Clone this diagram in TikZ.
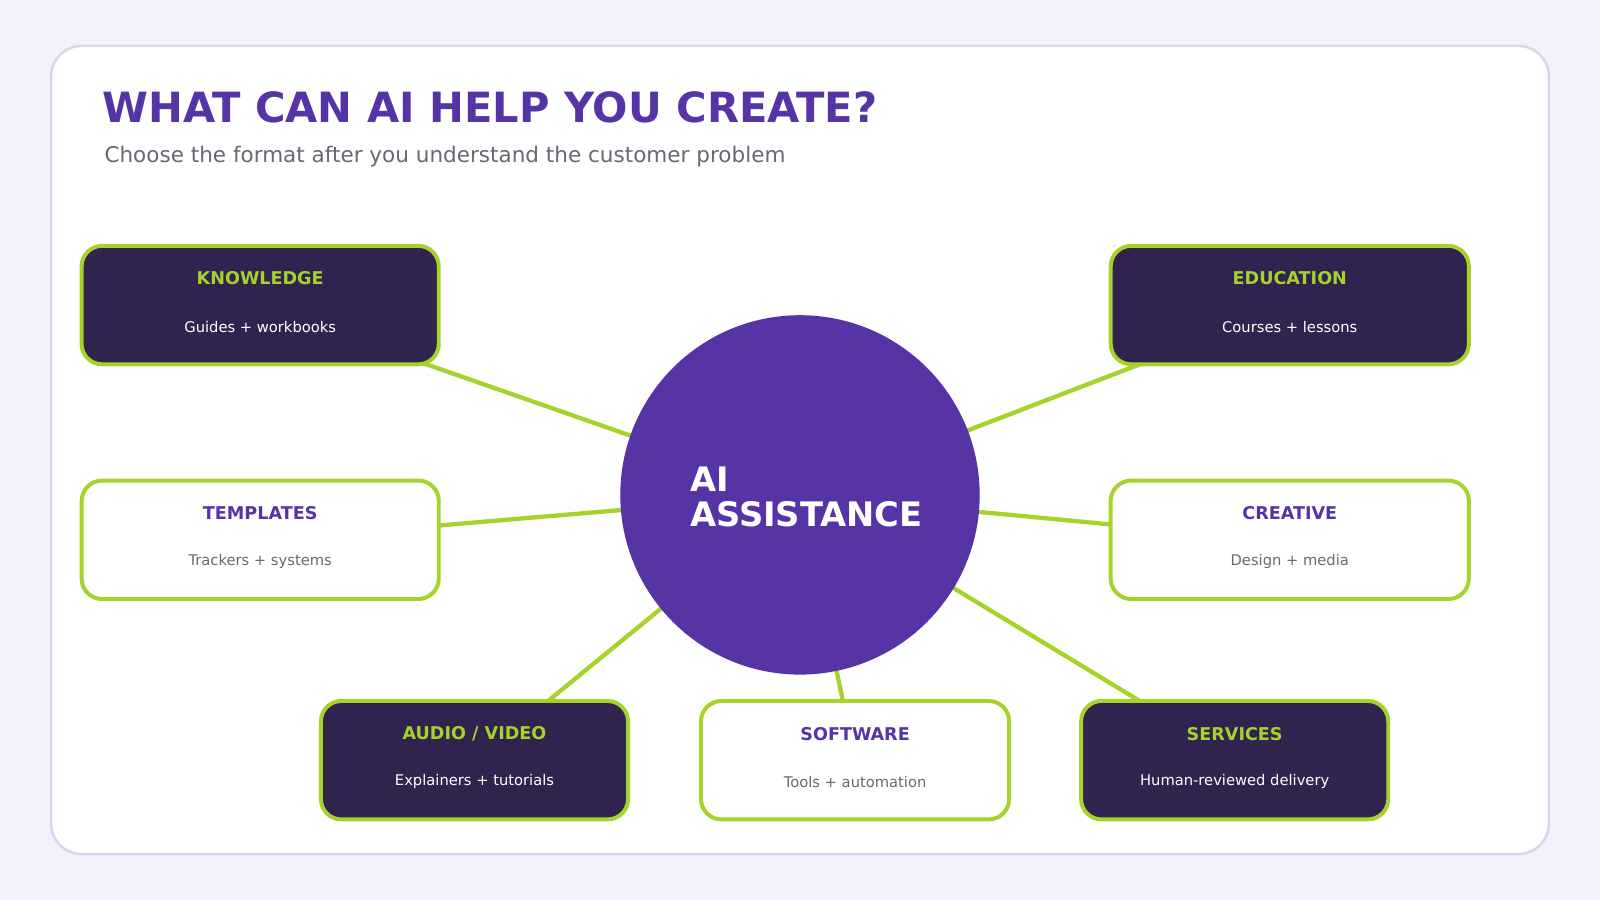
\documentclass[tikz,border=0pt]{standalone}
\usepackage{fontspec}
\setmainfont{DejaVu Sans}
\usetikzlibrary{calc}
\definecolor{bgpage}{HTML}{F3F2FC}
\definecolor{cardline}{HTML}{D8D5EC}
\definecolor{aipurple}{HTML}{5634A6}
\definecolor{darkbox}{HTML}{30244F}
\definecolor{lime}{HTML}{A6D22A}
\definecolor{greytext}{HTML}{666A75}
\tikzset{
  tile/.style={rectangle, rounded corners=0.2cm, draw=lime, line width=1.1pt, inner sep=0pt},
  darktile/.style={tile, fill=darkbox},
  lighttile/.style={tile, fill=white},
  link/.style={draw=lime, line width=1.2pt},
}
% \tile{name}{x}{y}{width}{style}{title colour}{sub colour}{title}{sub}
\newcommand{\tile}[9]{%
  \node[#5, minimum width={#4*0.01cm}, minimum height=1.16cm] (#1) at (#2,#3) {};
  \node[font=\fontsize{4.9}{6}\selectfont\bfseries, text=#6] (#1t) at ($(#1)+(0,-26)$) {#8};
  \node[font=\fontsize{4.1}{5}\selectfont, text=#7] (#1s) at ($(#1)+(0,21)$) {#9};
}
\begin{document}
\begin{tikzpicture}[x=0.01cm, y=-0.01cm]
  \fill[bgpage] (0,0) rectangle (1568,882);
  \useasboundingbox (0,0) rectangle (1568,882);
  \draw[cardline, fill=white, line width=0.7pt, rounded corners=0.3cm] (50,45) rectangle (1518,837);
  \node[anchor=west, text=aipurple, font=\fontsize{11.6}{13}\selectfont\bfseries] (title) at (88,105) {WHAT CAN AI HELP YOU CREATE?};
  \node[anchor=west, text=greytext, font=\fontsize{6}{7}\selectfont] (subtitle) at (90,153) {Choose the format after you understand the customer problem};
  \coordinate (hub) at (784,485);
  % connectors first, boxes cover them
  \coordinate (kx) at (415,356);
  \coordinate (ex) at (1117,357);
  \coordinate (tx) at (430,515);
  \coordinate (cx) at (1089,514);
  \coordinate (ax) at (537,687);
  \coordinate (sx) at (826,687);
  \coordinate (vx) at (1117,687);
  \foreach \p in {kx,ex,tx,cx,ax,sx,vx}
    \draw[link] (\p) -- (hub);
  \node[circle, fill=aipurple, minimum size=3.52cm, inner sep=0pt] (ai) at (hub) {};
  \node[anchor=west, align=left, text=white, font=\fontsize{9.4}{9.6}\selectfont\bfseries] (ailabel) at (664,487) {AI\\ASSISTANCE};
  \tile{know}{255}{299}{350}{darktile}{lime}{white}{KNOWLEDGE}{Guides + workbooks}
  \tile{edu}{1264}{299}{351}{darktile}{lime}{white}{EDUCATION}{Courses + lessons}
  \tile{tmpl}{255}{529}{350}{lighttile}{aipurple}{greytext}{TEMPLATES}{Trackers + systems}
  \tile{crea}{1264}{529}{351}{lighttile}{aipurple}{greytext}{CREATIVE}{Design + media}
  \tile{av}{465}{745}{301}{darktile}{lime}{white}{AUDIO / VIDEO}{Explainers + tutorials}
  \tile{soft}{838}{745}{302}{lighttile}{aipurple}{greytext}{SOFTWARE}{Tools + automation}
  \tile{serv}{1210}{745}{301}{darktile}{lime}{white}{SERVICES}{Human-reviewed delivery}
\end{tikzpicture}
\end{document}
